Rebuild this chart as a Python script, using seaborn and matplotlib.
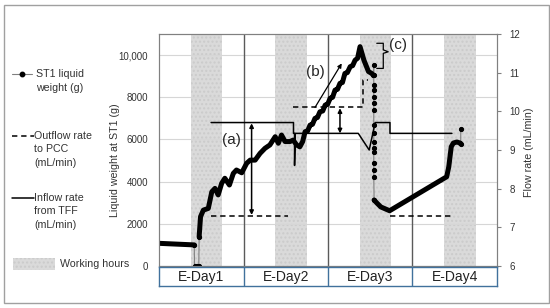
import matplotlib.pyplot as plt
import seaborn as sns
import pandas as pd
from matplotlib.lines import Line2D
from matplotlib.patches import Rectangle

# ---- data (hours from start of E-Day1) ----
day_labels = ['E-Day1', 'E-Day2', 'E-Day3', 'E-Day4']
day_bounds = [24, 48, 72]
work_start = [9, 33, 57, 81]
work_end = [18, 42, 66, 90]

# ST1 liquid weight, continuous parts (thick)
flat_h = [0, 10.0]
flat_w = [1075, 1000]
rise_h = [11.4, 11.8, 12.6, 14.0, 15.0, 15.9, 16.8, 17.8, 18.7, 20.0,
          21.1, 22.0, 23.5, 24.9, 25.9, 27.3, 28.7, 30.1, 31.5, 33.0,
          33.9, 34.8, 35.8, 37.2, 38.1, 39.1, 40.0, 40.8, 41.5, 42.2,
          42.9, 43.6, 44.3, 45.0, 45.7, 46.5, 47.2, 47.9, 48.6, 49.3,
          50.0, 50.7, 51.4, 52.1, 52.8, 53.5, 54.3, 55.0, 55.7, 56.4,
          57.1, 58.2, 59.5, 60.4, 60.9]
rise_w = [1390, 2340, 2650, 2730, 3520, 3680, 3370, 3920, 4160, 3840,
          4390, 4550, 4420, 4870, 5020, 5020, 5340, 5580, 5740, 6130,
          5820, 6210, 5900, 5900, 5970, 5740, 5650, 5900, 6370, 6400,
          6680, 6720, 7000, 7040, 7310, 7350, 7630, 7670, 7950, 8000,
          8340, 8380, 8660, 8700, 9130, 9170, 9450, 9500, 9760, 9850,
          10400, 9760, 9220, 9130, 9050]
after_h = [61.1, 61.8, 63.0, 65.5, 81.7, 82.3, 83.0, 83.6, 84.6, 85.5]
after_w = [3130, 3000, 2800, 2620, 4230, 4700, 5650, 5830, 5880, 5830]

# sparse logged points (thin line + dots)
drop1_h = [10.0, 10.1, 10.7, 11.3, 11.4]
drop1_w = [1000, 0, 0, 0, 1390]
drop2_h = [60.9, 61.0, 61.0, 61.0, 61.0, 61.0, 61.0, 61.0, 61.0, 61.0,
           61.0, 61.0, 61.0, 61.0, 61.0, 61.0, 61.1]
drop2_w = [9050, 9530, 9050, 8580, 8340, 8030, 7710, 7400, 6680, 6300,
           5900, 5580, 5420, 4870, 4550, 4230, 3130]
end_h = [85.5, 85.7, 85.7]
end_w = [5830, 5800, 6480]

# flow rates (mL/min)
inflow_h = [14.8, 38.2, 38.2, 38.5, 38.5, 38.7, 56.6, 59.7, 61.4, 65.6, 65.6, 83.2]
inflow_v = [9.71, 9.71, 9.43, 9.43, 8.6, 9.43, 9.43, 9.0, 9.71, 9.71, 9.43, 9.43]
out1_h = [14.8, 36.7]
out1_v = [7.30, 7.30]
out2_h = [38.2, 57.9, 57.9, 59.5]
out2_v = [10.10, 10.10, 10.81, 10.81]
out3_h = [65.5, 83.2]
out3_v = [7.30, 7.30]

sns.set_style('white')
plt.rcParams['font.family'] = ['Liberation Sans', 'DejaVu Sans']

W, H = 550, 308
fig = plt.figure(figsize=(5.5, 3.08), dpi=100)
ax = fig.add_axes([159 / W, 1 - 266 / H, 338 / W, 232 / H])

# working hours
for s, e in zip(work_start, work_end):
    ax.axvspan(s, e, facecolor='#dadada', edgecolor='#cbcbcb', hatch='....', lw=0, zorder=0)

ax.set_xlim(0, 96)
ax.set_ylim(0, 11000)
ax.set_yticks([0, 2000, 4000, 6000, 8000, 10000])
ax.set_yticklabels(['0', '2000', '4000', '6000', '8000', '10,000'])
ax.set_xticks([])
ax.grid(axis='y', color='#d6d6d6', lw=0.8)
for b in day_bounds:
    ax.axvline(b, color='#5a5a5a', lw=1, zorder=1)

# weight curve
thick = pd.DataFrame({
    'h': flat_h + rise_h + after_h,
    'w': flat_w + rise_w + after_w,
    'seg': [0] * len(flat_h) + [1] * len(rise_h) + [2] * len(after_h),
})
thin = pd.DataFrame({
    'h': drop1_h + drop2_h + end_h,
    'w': drop1_w + drop2_w + end_w,
    'seg': [0] * len(drop1_h) + [1] * len(drop2_h) + [2] * len(end_h),
})
sns.lineplot(data=thin, x='h', y='w', units='seg', estimator=None, sort=False,
             color='#808080', lw=0.8, marker='o', markersize=3.0,
             markerfacecolor='black', markeredgecolor='black', ax=ax, zorder=3)
sns.lineplot(data=thick, x='h', y='w', units='seg', estimator=None, sort=False,
             color='black', lw=3.6, solid_capstyle='round', solid_joinstyle='round',
             ax=ax, zorder=4)

ax.tick_params(axis='y', length=0, pad=8, labelsize=7, labelcolor='#333333')
ax.set_xlabel('')
ax.set_ylabel('Liquid weight at ST1 (g)', fontsize=7.7, color='#333333')
ax.yaxis.set_label_coords(-0.114, 0.457)

# flow rates on right axis
ax_r = ax.twinx()
ax_r.set_ylim(6, 12)
ax_r.set_yticks([6, 7, 8, 9, 10, 11, 12])
sns.lineplot(x=inflow_h, y=inflow_v, sort=False, estimator=None,
             color='black', lw=1.1, ax=ax_r)
outflow = pd.DataFrame({
    'h': out1_h + out2_h + out3_h,
    'v': out1_v + out2_v + out3_v,
    'seg': [0] * len(out1_h) + [1] * len(out2_h) + [2] * len(out3_h),
})
sns.lineplot(data=outflow, x='h', y='v', units='seg', estimator=None, sort=False,
             color='black', lw=1.1, linestyle=(0, (3.5, 2.5)), ax=ax_r)
ax_r.tick_params(axis='y', length=3, pad=6, labelsize=7, color='#808080', labelcolor='#333333')
ax_r.set_xlabel('')
ax_r.set_ylabel('Flow rate (mL/min)', fontsize=7.7, color='#333333')
ax_r.yaxis.set_label_coords(1.081, 0.489)

for a in (ax, ax_r):
    for sp in a.spines.values():
        sp.set_color('#808080')
        sp.set_linewidth(0.8)

# annotations
arr2 = dict(arrowstyle='<|-|>', color='black', lw=1.1, mutation_scale=6, shrinkA=0, shrinkB=0)
ax_r.annotate('', xy=(26.3, 9.69), xytext=(26.3, 7.32), arrowprops=arr2)
ax_r.text(20.6, 9.26, '(a)', fontsize=11, ha='center', va='center')
ax_r.annotate('', xy=(51.4, 10.08), xytext=(51.4, 9.43), arrowprops=arr2)
ax_r.annotate('', xy=(51.9, 11.24), xytext=(44.3, 10.1),
              arrowprops=dict(arrowstyle='-|>', color='black', lw=0.9, mutation_scale=6,
                              shrinkA=0, shrinkB=0))
ax_r.text(44.3, 11.03, '(b)', fontsize=11, ha='center', va='center')
ax_r.plot([61.85, 63.7, 63.7, 65.1, 63.7, 63.7, 61.85],
          [11.76, 11.76, 11.59, 11.54, 11.50, 11.11, 11.11], color='black', lw=0.9)
ax_r.text(68.0, 11.71, '(c)', fontsize=11, ha='center', va='center')

# day boxes under the axis
axd = fig.add_axes([159 / W, 1 - 286 / H, 338 / W, 19 / H])
axd.set_xlim(0, 96)
axd.set_ylim(0, 1)
axd.set_xticks([])
axd.set_yticks([])
for sp in axd.spines.values():
    sp.set_color('#41719c')
    sp.set_linewidth(1)
for b in day_bounds:
    axd.axvline(b, color='#41719c', lw=1)
for i, lab in enumerate(day_labels):
    axd.text(12 + 24 * i, 0.47, lab, ha='center', va='center', fontsize=10, color='#222222')

# legend on the left
def fx(x):
    return x / W

def fy(y):
    return 1 - y / H

fig.add_artist(Line2D([fx(12), fx(32)], [fy(74), fy(74)], color='#808080', lw=0.8))
fig.add_artist(Line2D([fx(22)], [fy(74)], marker='o', ms=3.2, color='black'))
fig.add_artist(Line2D([fx(12), fx(33.5)], [fy(136), fy(136)], color='black', lw=1.1,
                      linestyle=(0, (3.5, 2.5))))
fig.add_artist(Line2D([fx(12), fx(33.5)], [fy(198), fy(198)], color='black', lw=1.1))
fig.add_artist(Rectangle((fx(13), fy(270)), 42 / W, 12 / H, facecolor='#dadada',
                         edgecolor='#cbcbcb', hatch='....', lw=0))

leg_text = [
    (36, 74, ['ST1 liquid', 'weight (g)']),
    (34.5, 136, ['Outflow rate', 'to PCC', '(mL/min)']),
    (34, 198, ['Inflow rate', 'from TFF', '(mL/min)']),
    (60, 264, ['Working hours']),
]
for x0, y0, lines in leg_text:
    for k, t in enumerate(lines):
        fig.text(fx(x0), fy(y0 + 13.5 * k), t, fontsize=7.7, ha='left', va='center',
                 color='#333333')

# outer frame
fig.add_artist(Rectangle((fx(3.5), fy(303)), 545.5 / W, 298.5 / H, fill=False,
                         edgecolor='#a0a0a0', lw=1, transform=fig.transFigure))

fig.savefig('out.png', dpi=100)
